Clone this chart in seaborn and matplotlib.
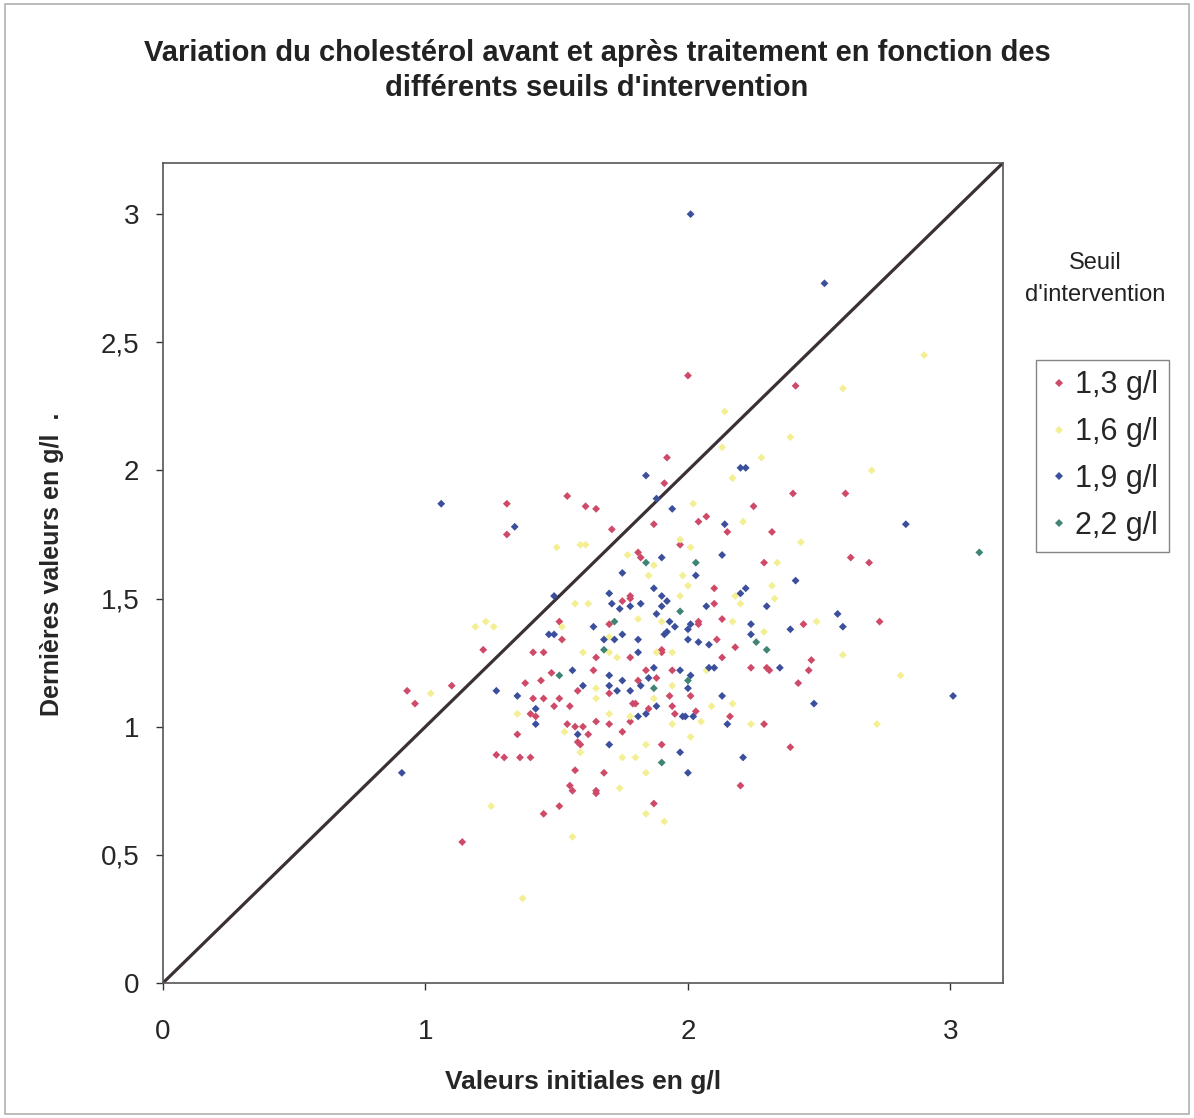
"""
    Cholesterol before / after treatment, by intervention threshold.
"""

import pandas as pd
import matplotlib.pyplot as plt
import matplotlib.patches as patches
import seaborn as sns

# Values (g/l)
red_x = [2.00, 2.41, 1.92, 1.54, 1.31, 1.31, 1.61, 1.65, 1.91, 2.40, 2.60, 2.25, 1.71, 1.87, 2.04,
         2.07, 2.15, 2.32, 1.97, 1.81, 1.82, 2.29, 2.62, 2.69, 2.73, 2.10, 2.10, 1.75, 1.78, 1.78,
         2.04, 2.04, 2.13, 2.44, 1.70, 1.51, 1.52, 1.41, 1.45, 1.22, 1.65, 2.11, 2.18, 1.90, 1.90,
         1.78, 2.13, 2.24, 2.30, 2.31, 1.64, 1.94, 1.84, 2.47, 2.46, 2.42, 0.93, 0.96, 1.10, 1.38,
         1.44, 1.48, 1.41, 1.45, 1.49, 1.51, 1.55, 1.40, 1.42, 1.54, 1.57, 1.60, 1.62, 1.58, 1.59,
         1.35, 1.27, 1.30, 1.36, 1.40, 1.57, 1.55, 1.56, 1.65, 1.51, 1.45, 1.14, 1.58, 1.70, 1.81,
         1.88, 1.93, 2.01, 1.94, 1.95, 2.03, 1.85, 1.79, 1.80, 1.78, 1.65, 1.70, 1.75, 1.90, 2.16,
         2.29, 2.39, 2.20, 1.68, 1.65, 1.87]
red_y = [2.37, 2.33, 2.05, 1.90, 1.87, 1.75, 1.86, 1.85, 1.95, 1.91, 1.91, 1.86, 1.77, 1.79, 1.80,
         1.82, 1.76, 1.76, 1.71, 1.68, 1.66, 1.64, 1.66, 1.64, 1.41, 1.54, 1.48, 1.49, 1.51, 1.50,
         1.41, 1.40, 1.42, 1.40, 1.40, 1.41, 1.34, 1.29, 1.29, 1.30, 1.27, 1.34, 1.31, 1.30, 1.29,
         1.27, 1.27, 1.23, 1.23, 1.22, 1.22, 1.22, 1.22, 1.26, 1.22, 1.17, 1.14, 1.09, 1.16, 1.17,
         1.18, 1.21, 1.11, 1.11, 1.08, 1.11, 1.08, 1.05, 1.04, 1.01, 1.00, 1.00, 0.97, 0.94, 0.93,
         0.97, 0.89, 0.88, 0.88, 0.88, 0.83, 0.77, 0.75, 0.75, 0.69, 0.66, 0.55, 1.14, 1.13, 1.18,
         1.19, 1.12, 1.12, 1.08, 1.05, 1.06, 1.07, 1.09, 1.09, 1.02, 1.02, 1.01, 0.98, 0.93, 1.04,
         1.01, 0.92, 0.77, 0.82, 0.74, 0.70]

yellow_x = [2.90, 2.59, 2.14, 2.39, 2.13, 2.28, 2.17, 2.70, 2.02, 2.21, 1.97, 2.43, 2.34, 1.50,
            1.59, 1.61, 1.77, 1.87, 1.98, 2.00, 1.97, 1.57, 1.62, 1.81, 1.90, 1.52, 2.17, 2.32,
            2.33, 2.18, 2.29, 2.49, 2.59, 2.81, 2.72, 1.23, 1.26, 1.60, 1.70, 1.88, 1.02, 1.35,
            1.25, 1.56, 1.37, 1.73, 1.65, 1.70, 1.53, 1.59, 1.84, 1.75, 1.80, 1.84, 1.74, 1.84,
            1.91, 1.94, 2.01, 2.05, 2.07, 2.09, 2.17, 2.24, 1.94, 1.87, 1.65, 1.78, 2.01, 1.85,
            2.20, 1.94, 1.70, 1.19]
yellow_y = [2.45, 2.32, 2.23, 2.13, 2.09, 2.05, 1.97, 2.00, 1.87, 1.80, 1.73, 1.72, 1.64, 1.70,
            1.71, 1.71, 1.67, 1.63, 1.59, 1.55, 1.51, 1.48, 1.48, 1.42, 1.41, 1.39, 1.41, 1.55,
            1.50, 1.51, 1.37, 1.41, 1.28, 1.20, 1.01, 1.41, 1.39, 1.29, 1.35, 1.29, 1.13, 1.05,
            0.69, 0.57, 0.33, 1.27, 1.15, 1.05, 0.98, 0.90, 0.93, 0.88, 0.88, 0.82, 0.76, 0.66,
            0.63, 1.01, 0.96, 1.02, 1.22, 1.08, 1.09, 1.01, 1.16, 1.11, 1.11, 1.04, 1.70, 1.59,
            1.48, 1.29, 1.29, 1.39]

blue_x = [2.01, 2.52, 1.06, 1.34, 1.49, 1.47, 1.49, 1.64, 1.56, 1.84, 1.88, 2.20, 2.22, 1.94, 2.14,
          2.83, 1.90, 2.13, 2.03, 1.75, 2.41, 2.20, 2.22, 2.07, 2.30, 1.87, 1.90, 1.92, 1.90, 1.70,
          1.71, 1.74, 1.78, 1.82, 1.88, 1.93, 1.95, 2.00, 2.01, 2.24, 2.24, 2.39, 2.57, 2.59, 1.75,
          1.68, 1.72, 1.81, 1.81, 1.91, 1.92, 2.00, 2.04, 2.08, 2.35, 2.08, 2.10, 1.87, 1.97, 1.27,
          1.35, 1.42, 1.42, 1.58, 0.91, 1.60, 2.13, 2.15, 2.21, 2.00, 1.97, 1.70, 1.81, 1.84, 1.88,
          1.98, 1.99, 2.02, 2.00, 2.01, 1.82, 1.78, 1.70, 1.73, 1.75, 1.70, 1.85, 3.01, 2.48]
blue_y = [3.00, 2.73, 1.87, 1.78, 1.51, 1.36, 1.36, 1.39, 1.22, 1.98, 1.89, 2.01, 2.01, 1.85, 1.79,
          1.79, 1.66, 1.67, 1.59, 1.60, 1.57, 1.52, 1.54, 1.47, 1.47, 1.54, 1.51, 1.49, 1.47, 1.52,
          1.48, 1.46, 1.47, 1.48, 1.44, 1.41, 1.39, 1.38, 1.40, 1.40, 1.36, 1.38, 1.44, 1.39, 1.36,
          1.34, 1.34, 1.34, 1.29, 1.36, 1.37, 1.34, 1.33, 1.32, 1.23, 1.23, 1.23, 1.23, 1.22, 1.14,
          1.12, 1.07, 1.01, 0.97, 0.82, 1.16, 1.12, 1.01, 0.88, 0.82, 0.90, 0.93, 1.04, 1.05, 1.08,
          1.04, 1.04, 1.04, 1.15, 1.20, 1.16, 1.14, 1.16, 1.14, 1.18, 1.20, 1.19, 1.12, 1.09]

green_x = [1.51, 1.84, 2.03, 1.97, 2.26, 1.72, 1.68, 2.30, 1.90, 2.00, 1.87, 3.11]
green_y = [1.20, 1.64, 1.64, 1.45, 1.33, 1.41, 1.30, 1.30, 0.86, 1.18, 1.15, 1.68]

seuils = ['1,3 g/l', '1,6 g/l', '1,9 g/l', '2,2 g/l']
colours = ['#cf4a68', '#f3ef92', '#3b4f9c', '#3f8475']

ticks = [0, 0.5, 1, 1.5, 2, 2.5, 3]
y_tick_labels = ['0', '0,5', '1', '1,5', '2', '2,5', '3']
x_ticks = [0, 1, 2, 3]
x_tick_labels = ['0', '1', '2', '3']
axis_max = 3.2

# One table for seaborn
frames = []
for name, xs, ys in zip(seuils, [red_x, yellow_x, blue_x, green_x], [red_y, yellow_y, blue_y, green_y]):
    frames.append(pd.DataFrame({'initiale': xs, 'derniere': ys, 'seuil': name}))
df = pd.concat(frames, ignore_index=True)

sns.set_theme(style="white")
plt.rcParams['font.family'] = ['Liberation Sans', 'DejaVu Sans']

fig = plt.figure(figsize=(11.94, 11.18), dpi=100)
ax = fig.add_axes([0.1365, 0.1208, 0.7035, 0.7335])

# y = x reference line
ax.plot([0, axis_max], [0, axis_max], color='#3a3036', linewidth=2.3, zorder=1)

sns.scatterplot(data=df, x='initiale', y='derniere', hue='seuil', hue_order=seuils,
                palette=colours, marker='D', s=16, linewidth=0, ax=ax, zorder=2)

ax.set_xlim(0, axis_max)
ax.set_ylim(0, axis_max)
ax.set_xticks(x_ticks)
ax.set_xticklabels(x_tick_labels)
ax.set_yticks(ticks)
ax.set_yticklabels(y_tick_labels)
ax.tick_params(axis='both', labelsize=20, color='#333333', direction='out',
               length=5, width=1, pad=12, bottom=True, left=True)
ax.tick_params(axis='x', pad=21)
for spine in ax.spines.values():
    spine.set_color('#555555')
    spine.set_linewidth(1.2)

ax.set_xlabel('Valeurs initiales en g/l', fontsize=19, fontweight='bold', labelpad=18)
ax.set_ylabel('Dernières valeurs en g/l  .', fontsize=18, fontweight='bold')
ax.yaxis.set_label_coords(-0.118, 0.51)

fig.suptitle("Variation du cholestérol avant et après traitement en fonction des\n"
             "différents seuils d'intervention",
             fontsize=21, fontweight='bold', y=0.937, va='center', linespacing=1.3,
             color='#222222')

# Legend: title outside the box, like the original
sns.move_legend(ax, 'upper left', bbox_to_anchor=(1.039, 0.76), borderaxespad=0,
                title=None, frameon=True, fancybox=False, fontsize=22, markerscale=0.9,
                handletextpad=0.15, labelspacing=0.55, borderpad=0.35, handlelength=0.8)
leg = ax.get_legend()
leg.get_frame().set_edgecolor('#666666')
leg.get_frame().set_linewidth(1)
fig.text(0.917, 0.765, 'Seuil', ha='center', va='center', fontsize=17, color='#222222')
fig.text(0.917, 0.736, "d'intervention", ha='center', va='center', fontsize=17, color='#222222')

# Outer frame of the chart area
fig.add_artist(patches.Rectangle((0.004, 0.004), 0.992, 0.992, transform=fig.transFigure,
                                 fill=False, edgecolor='#b0b0b0', linewidth=1.2))

plt.savefig('out.png', dpi=100)
